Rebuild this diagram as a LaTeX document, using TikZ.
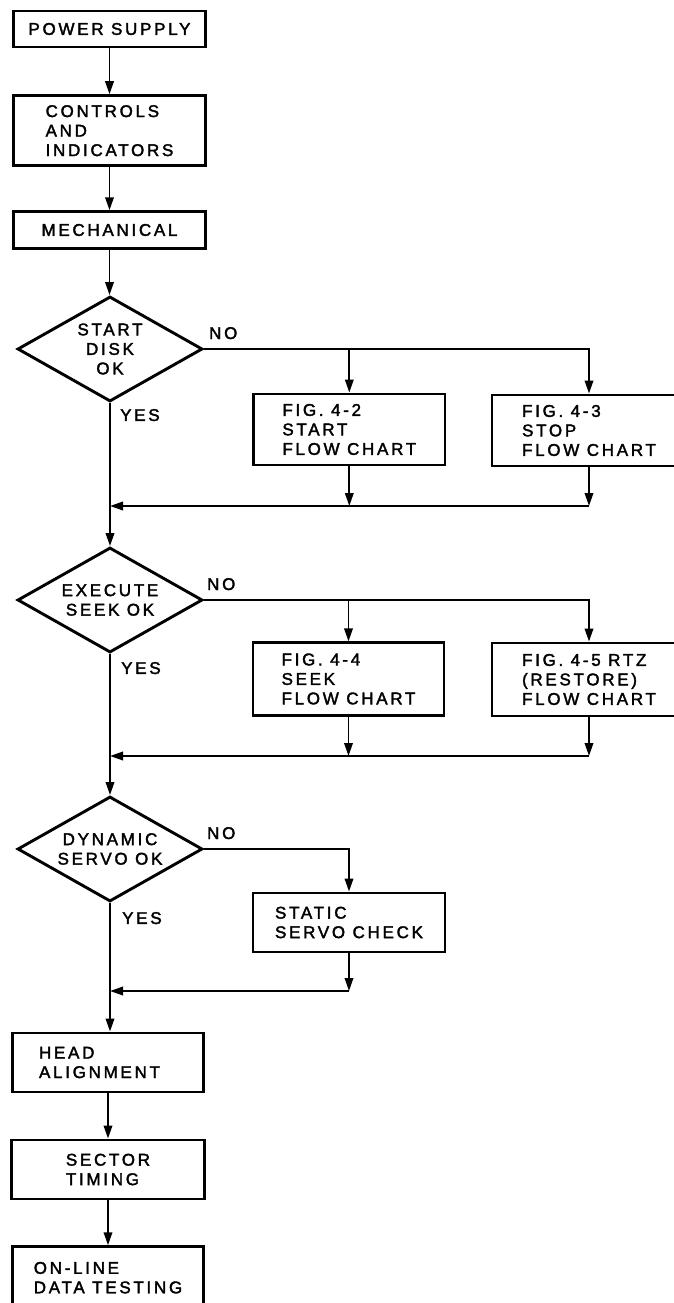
\documentclass[tikz,border=0pt]{standalone}
\usepackage{fontspec}
\setmainfont{Liberation Sans}[LetterSpace=16,FakeBold=2]
\usetikzlibrary{shapes.geometric,arrows.meta}
\tikzset{
  txt/.style={font=\fontsize{17pt}{19.5pt}\selectfont},
  box/.style={txt, draw, line width=2.9pt, rectangle, align=left, inner sep=0pt},
  dec/.style={txt, draw, line width=2.9pt, diamond, align=center, inner sep=0pt, aspect=1.76, minimum width=185pt, minimum height=105pt},
  conn/.style={line width=1.9pt},
  arr/.style={conn, -{Triangle[length=13pt,width=8.5pt]}},
  lbl/.style={txt, inner sep=0pt},
}
\begin{document}
\begin{tikzpicture}[x=1pt,y=-1pt]
\useasboundingbox (0,0) rectangle (674,1303);
\fill[white] (0,0) rectangle (674,1303);
\clip (0,0) rectangle (674,1303);
% left column
\node[box, minimum width=192.5pt, minimum height=36pt] (ps) at (109.5,29) {POWER SUPPLY};
\node[box, minimum width=192.5pt, minimum height=70pt] (ci) at (109.5,130.7) {CONTROLS\\AND\\INDICATORS};
\node[box, minimum width=192.5pt, minimum height=36.6pt] (me) at (109.5,230) {MECHANICAL};
\node[dec] (d1) at (110,349) {START\\DISK\\OK};
\node[dec] (d2) at (110,600) {EXECUTE\\SEEK OK};
\node[dec] (d3) at (110,849) {DYNAMIC\\SERVO OK};
\node[box, minimum width=191pt, minimum height=59pt] (ha) at (108,1062.5) {HEAD\\ALIGNMENT\hspace*{17pt}};
\node[box, minimum width=192.3pt, minimum height=59pt] (se) at (108,1169.5) {SECTOR\\TIMING};
\node[box, minimum width=191pt, minimum height=62pt] (ol) at (108,1277.7) {ON-LINE\\DATA TESTING};
% right boxes
\node[box, minimum width=191.4pt, minimum height=71pt] (f42) at (349.3,429.5) {FIG. 4-2\\START\\FLOW CHART};
\node[box, minimum width=194pt, minimum height=71pt] (f43) at (589,430.5) {FIG. 4-3\\STOP\\FLOW CHART};
\node[box, minimum width=191pt, minimum height=72.3pt] (f44) at (348.5,679) {FIG. 4-4\\SEEK\\FLOW CHART};
\node[box, minimum width=194pt, minimum height=73pt] (f45) at (589,679.5) {FIG. 4-5 RTZ\\(RESTORE)\\FLOW CHART};
\node[box, minimum width=192pt, minimum height=59pt] (ss) at (349,922.5) {STATIC\\SERVO CHECK};
% labels
\node[lbl, anchor=base west] (no1) at ([xshift=5pt,yshift=10pt]d1.east) {NO};
\node[lbl, anchor=base west] (no2) at ([xshift=3pt,yshift=10pt]d2.east) {NO};
\node[lbl, anchor=base west] (no3) at ([xshift=3pt,yshift=10pt]d3.east) {NO};
\node[lbl, anchor=base west] (yes1) at ([xshift=10pt,yshift=-18pt]d1.south) {YES};
\node[lbl, anchor=base west] (yes2) at ([xshift=11pt,yshift=-20pt]d2.south) {YES};
\node[lbl, anchor=base west] (yes3) at ([xshift=12pt,yshift=-21pt]d3.south) {YES};
% merge points
\coordinate (m1) at (110,506);
\coordinate (m2) at (110,756);
\coordinate (m3) at (110,991);
% main flow
\draw[arr] (ps.south) -- (ci.north);
\draw[arr] (ci.south) -- (me.north);
\draw[arr] (me.south) -- (me.south |- d1.north);
\draw[arr] (d1.south) -- (d2.north);
\draw[arr] (d2.south) -- (d3.north);
\draw[arr] (d3.south) -- (d3.south |- ha.north);
\draw[arr] (ha.south) -- (se.north);
\draw[arr] (se.south) -- (ol.north);
% branch 1
\draw[arr] (d1.east) -| (f43.north);
\draw[arr] (d1.east -| f42.north) -- (f42.north);
\draw[arr] (f42.south) -- (f42.south |- m1);
\draw[arr] (f43.south) -- (f43.south |- m1);
\draw[arr] (f43.south |- m1) -- (m1);
% branch 2
\draw[arr] (d2.east) -| (f45.north);
\draw[arr] (d2.east -| f44.north) -- (f44.north);
\draw[arr] (f44.south) -- (f44.south |- m2);
\draw[arr] (f45.south) -- (f45.south |- m2);
\draw[arr] (f45.south |- m2) -- (m2);
% branch 3
\draw[arr] (d3.east) -| (ss.north);
\draw[arr] (ss.south) -- (ss.south |- m3);
\draw[arr] (ss.south |- m3) -- (m3);
\end{tikzpicture}
\end{document}
